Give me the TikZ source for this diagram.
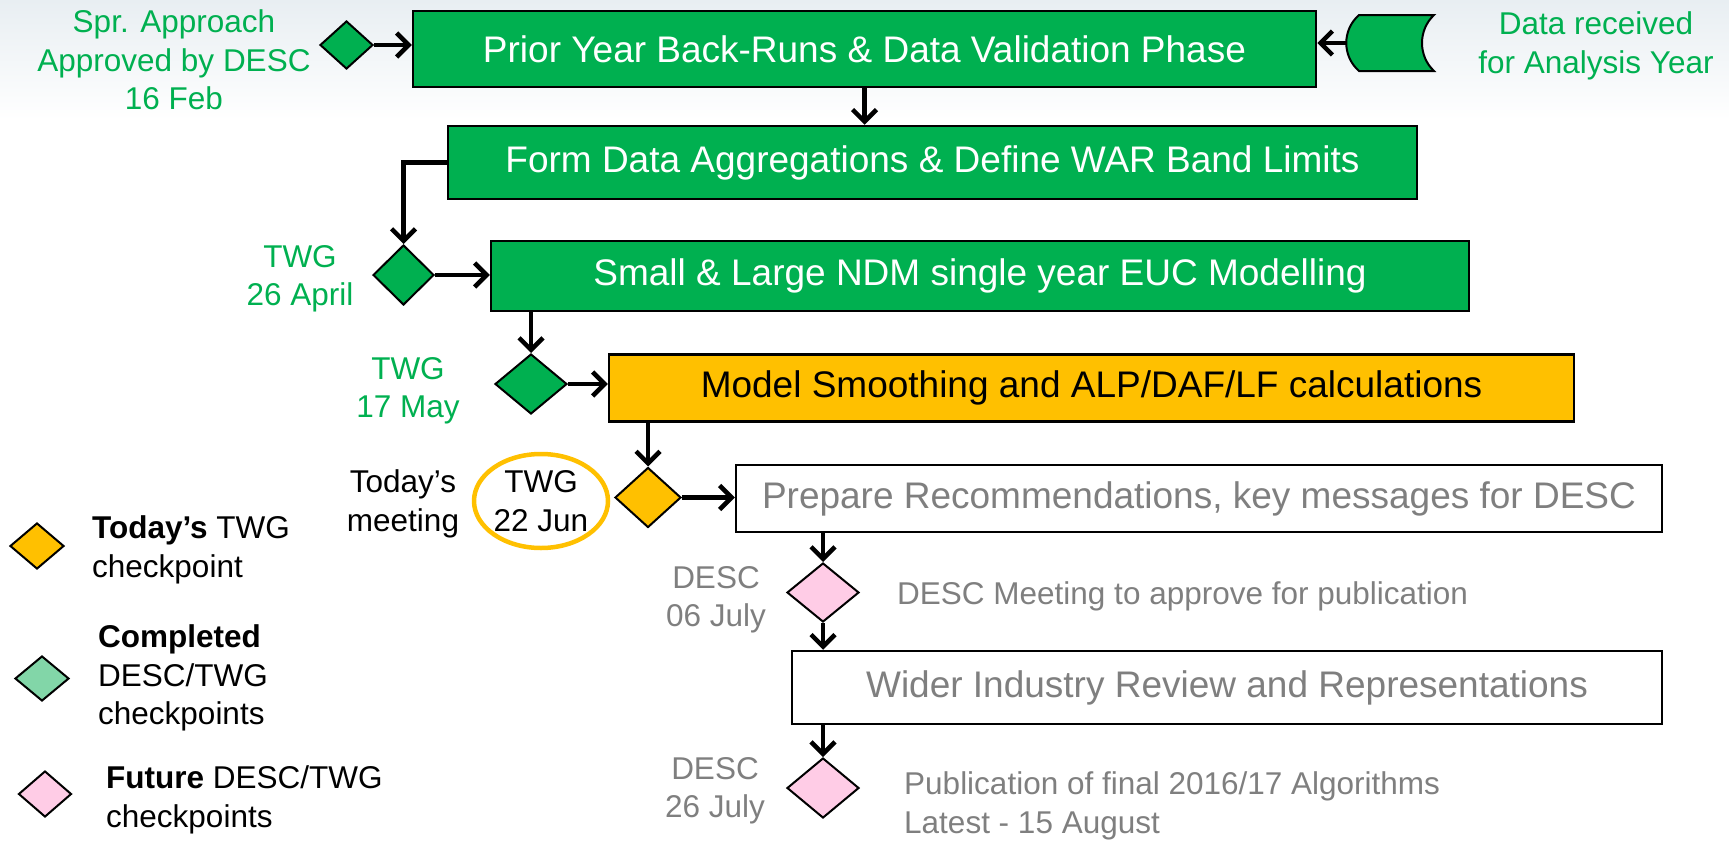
\documentclass[tikz,border=0pt]{standalone}
\usepackage{fontspec}
\setmainfont{Liberation Sans}
\usetikzlibrary{arrows.meta,shapes.geometric,calc}
\definecolor{pgreen}{HTML}{00B050}
\definecolor{porange}{HTML}{FFC000}
\definecolor{ppink}{HTML}{FFCCE6}
\definecolor{plgreen}{HTML}{82D6A8}
\definecolor{pgray}{HTML}{7F7F7F}
\definecolor{bgtop}{HTML}{E8EEF2}
\begin{document}
\begin{tikzpicture}[x=1pt,y=-1pt,
  boxbase/.style={draw=black, line width=2.5pt, inner sep=0pt, font=\fontsize{37}{44}\selectfont},
  boxg/.style={boxbase, fill=pgreen, text=white},
  boxo/.style={boxbase, fill=porange, text=black},
  boxw/.style={boxbase, fill=white, text=pgray},
  dia/.style={shape=diamond, draw=black, line width=2pt, inner sep=0pt},
  lbl/.style={align=center, inner sep=0pt, font=\fontsize{31.5}{38.5}\selectfont},
  lblg/.style={lbl, text=pgreen},
  lblk/.style={lbl, text=black},
  lbly/.style={lbl, text=pgray},
  legtxt/.style={align=left, anchor=west, inner sep=0pt, text=black, font=\fontsize{31.5}{38.5}\selectfont},
  flow/.style={line width=4.5pt, -{Straight Barb[length=12pt,width=24pt]}}
]
\useasboundingbox (0,0) rectangle (1729,846);
\shade[top color=bgtop, bottom color=white] (0,0) rectangle (1729,120);

% boxes
\node[boxg, minimum width=903, minimum height=76] (b1) at (864.5,49) {Prior Year Back-Runs \& Data Validation Phase};
\node[boxg, minimum width=969, minimum height=73] (b2) at (932.5,162.5) {Form Data Aggregations \& Define WAR Band Limits};
\node[boxg, minimum width=978, minimum height=70] (b3) at (980,276) {Small \& Large NDM single year EUC Modelling};
\node[boxo, minimum width=965, minimum height=67] (b4) at (1091.5,388) {Model Smoothing and ALP/DAF/LF calculations};
\node[boxw, minimum width=926, minimum height=67] (b5) at (1199,498.5) {Prepare Recommendations, key messages for DESC};
\node[boxw, minimum width=870, minimum height=73] (b6) at (1227,687.5) {Wider Industry Review and Representations};

% diamonds
\node[dia, fill=pgreen, minimum width=53, minimum height=48] (d1) at (346.5,45) {};
\node[dia, fill=pgreen, minimum width=61, minimum height=60] (d2) at (403.5,275) {};
\node[dia, fill=pgreen, minimum width=72, minimum height=60] (d3) at (531,384) {};
\node[dia, fill=porange, minimum width=66, minimum height=60] (d4) at (648,497.5) {};
\node[dia, fill=ppink, minimum width=72, minimum height=59] (d5) at (823,592.5) {};
\node[dia, fill=ppink, minimum width=72, minimum height=60] (d6) at (823,788) {};

% stored data shape
\draw[fill=pgreen, line width=2pt] (1359,15) -- (1434,15)
  .. controls (1418,30) and (1418,56) .. (1434,71) -- (1359,71)
  .. controls (1342,56) and (1342,30) .. (1359,15) -- cycle;
\coordinate (dataL) at (1346,43);

% labels
\node[lblg] (l1) at (174,60) {Spr. Approach\\Approved by DESC\\16 Feb};
\node[lblg] (l2) at (1596,46) {Data received\\for Analysis Year};
\node[lblg] (l3) at (300,279) {TWG\\26 April};
\node[lblg] (l4) at (408,391) {TWG\\17 May};
\node[lblk] (l5) at (403,504) {Today’s\\meeting};
\node[lblk] (l6) at (541,501) {TWG\\22 Jun};
\draw[porange, line width=4.5pt] (l6.center) ellipse [x radius=67, y radius=47];
\node[lbly] (l7) at (716,600) {DESC\\06 July};
\node[lbly] (l8) at (715,791) {DESC\\26 July};
\node[lbly, anchor=west] (l9) at (897,596) {DESC Meeting to approve for publication};
\node[lbly, anchor=west, align=left] (l10) at (904,806) {Publication of final 2016/17 Algorithms\\Latest - 15 August};

% legend
\node[dia, fill=porange, minimum width=54, minimum height=46] (k1) at (37,546) {};
\node[legtxt] (t1) at (92,550) {\textbf{Today’s} TWG\\checkpoint};
\node[dia, fill=plgreen, minimum width=54, minimum height=45] (k2) at (42,678.5) {};
\node[legtxt] (t2) at (98,678) {\textbf{Completed}\\DESC/TWG\\checkpoints};
\node[dia, fill=ppink, minimum width=53, minimum height=46] (k3) at (45,794) {};
\node[legtxt] (t3) at (106,800) {\textbf{Future} DESC/TWG\\checkpoints};

% connectors
\draw[flow] (d1.east) -- (d1.east -| b1.west);
\draw[flow] (dataL) -- (dataL -| b1.east);
\draw[flow] (b1.south) -- (b1.south |- b2.north);
\draw[flow] (b2.west) -| (d2.north);
\draw[flow] (d2.east) -- (d2.east -| b3.west);
\draw[flow] (d3.north |- b3.south) -- (d3.north);
\draw[flow] (d3.east) -- (d3.east -| b4.west);
\draw[flow] (d4.north |- b4.south) -- (d4.north);
\draw[flow] (d4.east) -- (d4.east -| b5.west);
\draw[flow] (d5.north |- b5.south) -- (d5.north);
\draw[flow] (d5.south) -- (d5.south |- b6.north);
\draw[flow] (d6.north |- b6.south) -- (d6.north);
\end{tikzpicture}
\end{document}
